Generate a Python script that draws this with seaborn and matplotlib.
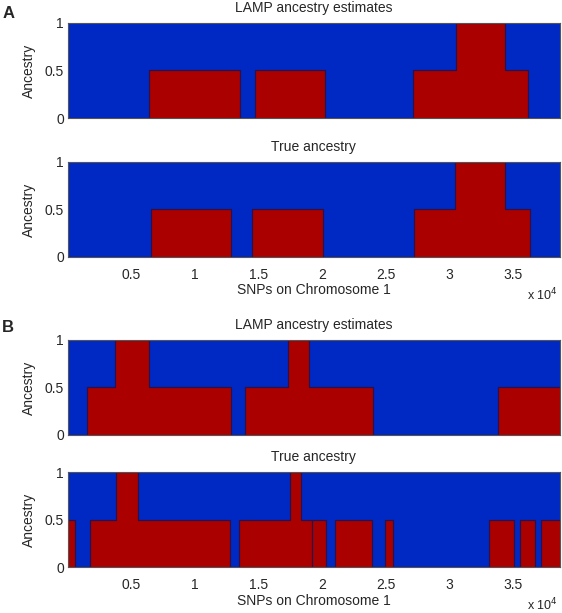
import numpy as np
import pandas as pd
import matplotlib
matplotlib.use("Agg")
import matplotlib.pyplot as plt
import seaborn as sns

# -----------------------------
# Data: ancestry step functions (breakpoint SNP index, ancestry from there on)
# -----------------------------
chrom_len = 38700

a_est_pos = [0, 6380, 13510, 14750, 20260, 27160, 30570, 34370, 36210, chrom_len]
a_est_val = [0, 0.5, 0, 0.5, 0, 0.5, 1, 0.5, 0, 0]

a_true_pos = [0, 6510, 12860, 14510, 20070, 27210, 30490, 34370, 36340, chrom_len]
a_true_val = [0, 0.5, 0, 0.5, 0, 0.5, 1, 0.5, 0, 0]

b_est_pos = [0, 1520, 3670, 6350, 12860, 13910, 17350, 18970, 24010, 33850, chrom_len]
b_est_val = [0, 0.5, 1, 0.5, 0, 0.5, 1, 0.5, 0, 0.5, 0.5]

b_true_pos = [0, 580, 1760, 3750, 5500, 12730, 13480, 17450, 18370, 19210, 20280,
              20990, 23960, 24980, 25590, 33150, 35110, 35610, 36790, 37260, chrom_len]
b_true_val = [0.5, 0, 0.5, 1, 0.5, 0, 0.5, 1, 0.5, 0.5, 0,
              0.5, 0, 0.5, 0, 0.5, 0, 0.5, 0, 0.5, 0.5]

xtick_pos = [5000, 10000, 15000, 20000, 25000, 30000, 35000]
xtick_labels = ["0.5", "1", "1.5", "2", "2.5", "3", "3.5"]
ytick_pos = [0, 0.5, 1]
ytick_labels = ["0", "0.5", "1"]

panels = [
    ("LAMP ancestry estimates", a_est_pos, a_est_val, False),
    ("True ancestry", a_true_pos, a_true_val, True),
    ("LAMP ancestry estimates", b_est_pos, b_est_val, False),
    ("True ancestry", b_true_pos, b_true_val, True),
]

# -----------------------------
# Style
# -----------------------------
sns.set_style("white")
plt.rcParams["font.family"] = ["Liberation Sans", "DejaVu Sans"]
plt.rcParams["font.size"] = 10

RED = "#aa0000"
BLUE = "#0029c4"
EDGE = "#2c1048"

fig = plt.figure(figsize=(5.62, 6.13), dpi=100)
bottoms = [0.8075, 0.5808, 0.2904, 0.075]
left, width, height = 0.121, 0.875, 0.155

for (title, pos, val, show_x), bot in zip(panels, bottoms):
    ax = fig.add_axes([left, bot, width, height])
    df = pd.DataFrame({"pos": pos, "val": val})

    ax.fill_between(df["pos"], 0, df["val"], step="post", color=RED, lw=0)
    ax.fill_between(df["pos"], df["val"], 1, step="post", color=BLUE, lw=0)
    sns.lineplot(data=df, x="pos", y="val", drawstyle="steps-post",
                 color=EDGE, lw=0.9, sort=False, ax=ax)
    # boundaries between adjacent segments of equal ancestry
    same = (df["val"].diff() == 0) & (df["val"] > 0) & (df["pos"] < chrom_len)
    ax.vlines(df.loc[same, "pos"], 0, df.loc[same, "val"], color=EDGE, lw=0.9)

    ax.set_xlim(0, chrom_len)
    ax.set_ylim(0, 1)
    ax.set_title(title, fontsize=10, pad=8)
    ax.set_ylabel("Ancestry", fontsize=10, labelpad=6)
    ax.set_yticks(ytick_pos)
    ax.set_yticklabels(ytick_labels)
    ax.set_xticks(xtick_pos)
    if show_x:
        ax.set_xticklabels(xtick_labels)
        ax.set_xlabel("SNPs on Chromosome 1", fontsize=10, labelpad=1)
        ax.text(0.995, -0.40, r"x 10$^4$", transform=ax.transAxes,
                ha="right", va="center", fontsize=9)
    else:
        ax.set_xticklabels([])
        ax.set_xlabel("")
    ax.tick_params(direction="in", length=3, color=EDGE, labelsize=10, pad=3)
    ax.tick_params(axis="x", pad=8)
    for s in ax.spines.values():
        s.set_color("#555555")
        s.set_linewidth(0.8)

fig.text(0.004, 0.99, "A", fontsize=12, fontweight="bold", va="top")
fig.text(0.004, 0.478, "B", fontsize=12, fontweight="bold", va="top")

plt.savefig("out.png", dpi=100)
